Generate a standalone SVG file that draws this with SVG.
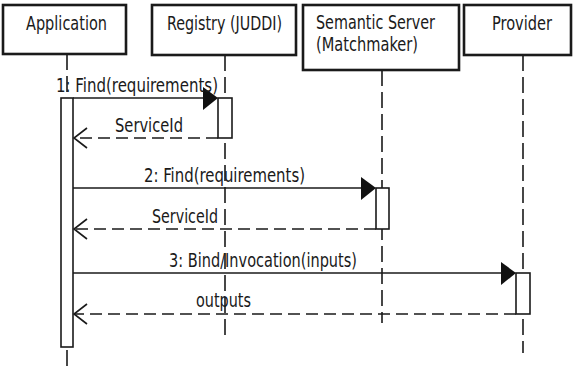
<svg xmlns="http://www.w3.org/2000/svg" width="573" height="370" viewBox="0 0 573 370">
<style>
.box{fill:#fff;stroke:#1a1a1a;stroke-width:2.6}
.life{fill:none;stroke:#1a1a1a;stroke-width:1.6;stroke-dasharray:16 6}
.act{fill:#fff;stroke:#1a1a1a;stroke-width:1.6}
.msg{fill:none;stroke:#1a1a1a;stroke-width:1.6}
.ret{fill:none;stroke:#1a1a1a;stroke-width:1.6;stroke-dasharray:12 6}
.head{fill:#111;stroke:none}
.open{fill:none;stroke:#1a1a1a;stroke-width:1.6}
text{font-family:"DejaVu Sans Condensed","DejaVu Sans",sans-serif;font-size:19px;fill:#1a1a1a}
</style>
<rect width="573" height="370" fill="#fff"/>
<g id="lifelines">
<line class="life" x1="67" y1="54" x2="67" y2="98"/>
<line class="life" x1="67" y1="350" x2="67" y2="370"/>
<line class="life" x1="225" y1="55" x2="225" y2="337"/>
<line class="life" x1="382" y1="70" x2="382" y2="323"/>
<line class="life" x1="523" y1="55" x2="523" y2="353"/>
</g>
<g id="application">
<rect class="box" x="3" y="5" width="123" height="49"/>
<text x="26" y="30" textLength="81" lengthAdjust="spacingAndGlyphs">Application</text>
</g>
<g id="registry">
<rect class="box" x="152" y="5" width="144" height="50"/>
<text x="167" y="30" textLength="115" lengthAdjust="spacingAndGlyphs">Registry (JUDDI)</text>
</g>
<g id="semantic-server">
<rect class="box" x="303" y="5" width="156" height="65"/>
<text x="316" y="29" textLength="119" lengthAdjust="spacingAndGlyphs">Semantic Server</text>
<text x="316" y="51" textLength="102" lengthAdjust="spacingAndGlyphs">(Matchmaker)</text>
</g>
<g id="provider">
<rect class="box" x="464" y="5" width="107" height="50"/>
<text x="492" y="30" textLength="60" lengthAdjust="spacingAndGlyphs">Provider</text>
</g>
<g id="activations">
<rect class="act" x="61" y="98" width="12" height="249"/>
<rect class="act" x="218" y="98" width="14" height="40"/>
<rect class="act" x="376" y="188" width="13" height="41"/>
<rect class="act" x="516" y="273" width="14" height="41"/>
</g>
<g id="connectors">
<line class="msg" x1="73" y1="98" x2="205" y2="98"/>
<polygon class="head" points="203,87 218,98 203,110"/>
<line class="ret" x1="218" y1="138" x2="74" y2="138"/>
<polyline class="open" points="87,128 74,138 87,148"/>
<line class="msg" x1="73" y1="188" x2="363" y2="188"/>
<polygon class="head" points="361,177 376,188 361,200"/>
<line class="ret" x1="376" y1="229" x2="74" y2="229"/>
<polyline class="open" points="87,219 74,229 87,239"/>
<line class="msg" x1="73" y1="273" x2="503" y2="273"/>
<polygon class="head" points="501,262 516,273 501,285"/>
<line class="ret" x1="516" y1="314" x2="74" y2="314"/>
<polyline class="open" points="87,304 74,314 87,324"/>
</g>
<g id="labels">
<text x="56" y="92" textLength="162" lengthAdjust="spacingAndGlyphs">1: Find(requirements)</text>
<text x="115" y="132" textLength="68" lengthAdjust="spacingAndGlyphs">ServiceId</text>
<text x="144" y="182" textLength="161" lengthAdjust="spacingAndGlyphs">2: Find(requirements)</text>
<text x="152" y="223" textLength="66" lengthAdjust="spacingAndGlyphs">ServiceId</text>
<text x="169" y="267" textLength="188" lengthAdjust="spacingAndGlyphs">3: Bind/Invocation(inputs)</text>
<text x="196" y="307" textLength="55" lengthAdjust="spacingAndGlyphs">outputs</text>
</g>
</svg>
